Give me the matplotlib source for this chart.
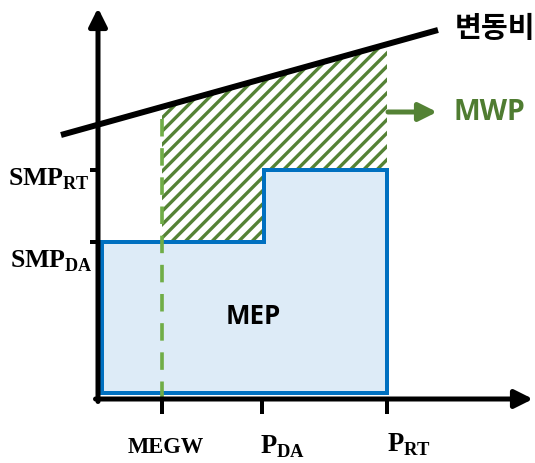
import numpy as np
import matplotlib
matplotlib.use('Agg')
import matplotlib.pyplot as plt

# concept diagram values (arbitrary units, 1 unit = 25 px)
q_names = ['MEGW', 'P$_{\\mathrm{DA}}$', 'P$_{\\mathrm{RT}}$']
q_values = [2.56, 6.56, 11.56]       # MEGW, P_DA, P_RT on the x axis
step_x = 6.64                        # where the price steps up
p_names = ['SMP$_{\\mathrm{RT}}$', 'SMP$_{\\mathrm{DA}}$']
smp_da = 6.28
smp_rt = 9.16
cost_x = [-1.48, 13.6]               # variable cost line ends
cost_y = [10.56, 14.76]

blue = '#0070C0'
light_blue = '#DDEBF7'
dark_green = '#548235'
light_green = '#70AD47'

plt.rcParams['mathtext.fontset'] = 'custom'
plt.rcParams['mathtext.rm'] = 'Liberation Serif:bold'
plt.rcParams['mathtext.bf'] = 'Liberation Serif:bold'
plt.rcParams['hatch.linewidth'] = 2.0

dpi = 120
fig = plt.figure(figsize=(535 / dpi, 463 / dpi), dpi=dpi)
ax = fig.add_axes([0, 0, 1, 1])
ax.set_xlim(-98 / 25, (535 - 98) / 25)
ax.set_ylim(-(463 - 399) / 25, 399 / 25)
ax.axis('off')

megw, p_da, p_rt = q_values

def cost(x):
    return np.interp(x, cost_x, cost_y)

# hatched MWP area between the price steps and the cost line
hx = [megw, step_x, step_x, p_rt]
lower = [smp_da, smp_da, smp_rt, smp_rt]
upper = cost(np.array(hx))
poly_x = hx + hx[::-1]
poly_y = lower + list(upper[::-1])
ax.fill(poly_x, poly_y, facecolor='none', edgecolor=dark_green, linewidth=0,
        hatch='///', zorder=1)

# MEP box
x0, y0 = 0.16, 0.24
bx = [x0, x0, step_x, step_x, p_rt, p_rt, x0]
by = [y0, smp_da, smp_da, smp_rt, smp_rt, y0, y0]
ax.fill(bx, by, facecolor=light_blue, edgecolor=blue, linewidth=2.4,
        joinstyle='miter', zorder=2)

# MEGW dashed line
lw_d = 2.2
ax.plot([megw, megw], [0, cost(megw)], color=light_green, lw=lw_d,
        dashes=(10.5 / lw_d, 7 / lw_d), zorder=3)

# variable cost line
ax.plot(cost_x, cost_y, color='black', lw=3.6, solid_capstyle='butt', zorder=4)

# axes with arrows
arrow = dict(arrowstyle='-|>,head_length=0.9,head_width=0.45', color='black',
             lw=3, shrinkA=0, shrinkB=0)
ax.annotate('', xy=(0, 15.64), xytext=(0, -0.1), arrowprops=arrow, zorder=5)
ax.annotate('', xy=(17.4, 0), xytext=(-0.1, 0), arrowprops=arrow, zorder=5)

# ticks
for q in q_values:
    ax.plot([q, q], [0, -0.52], color='black', lw=2.4, zorder=5)
for p in [smp_rt, smp_da]:
    ax.plot([-0.25, 0], [p, p], color='black', lw=2.4, zorder=5)

# tick labels
serif = dict(family='Liberation Serif', weight='bold', color='black')
ax.text(megw + 0.16, -2.16, q_names[0], ha='center', va='baseline',
        fontsize=13.5, **serif)
ax.text(p_da - 0.08, -2.16, q_names[1], ha='left', va='baseline',
        fontsize=16, **serif)
ax.text(p_rt, -2.12, q_names[2], ha='left', va='baseline',
        fontsize=16, **serif)
ax.text(-0.32, 8.56, p_names[0], ha='right', va='baseline', fontsize=15.5, **serif)
ax.text(-0.2, 5.28, p_names[1], ha='right', va='baseline', fontsize=15.5, **serif)

# labels
ax.text(6.2, 3.28, 'MEP', ha='center', va='center', fontsize=15.5,
        family='Open Sans', weight='bold', color='black', zorder=6)
ax.annotate('', xy=(13.56, 11.48), xytext=(11.6, 11.48),
            arrowprops=dict(arrowstyle='-|>,head_length=0.9,head_width=0.45',
                            color=dark_green, lw=3, shrinkA=0, shrinkB=0))
ax.text(14.2, 11.48, 'MWP', ha='left', va='center', fontsize=17,
        family='Open Sans', weight='bold', color='#4F7C31')
ax.text(14.28, 14.84, '변동비', ha='left', va='center', fontsize=17.5,
        family=['Noto Sans CJK KR', 'DejaVu Sans'], weight='bold', color='black')

fig.savefig('out.png', dpi=dpi)
